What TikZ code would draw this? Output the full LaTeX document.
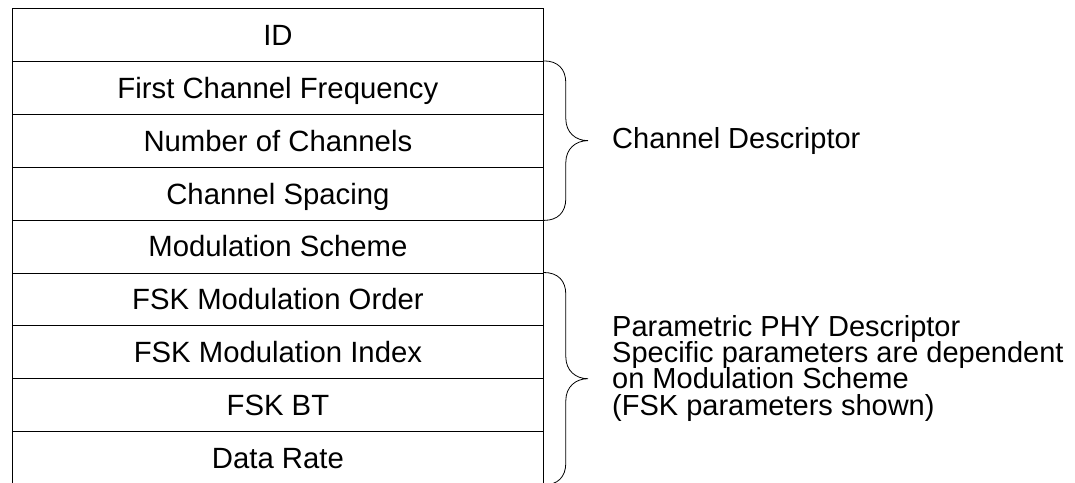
\documentclass[tikz,border=0pt]{standalone}
\usepackage{fontspec}
\setmainfont{Liberation Sans}
\usetikzlibrary{calc}
\begin{document}
\begin{tikzpicture}[x=1pt,y=-1pt,
  row/.style={draw, line width=0.8pt, minimum width=531pt, minimum height=52.9pt,
    inner sep=0pt, text height=21pt, text depth=0pt, anchor=north west,
    font=\fontsize{29.3}{32}\selectfont},
  lbl/.style={anchor=base west, inner sep=0pt, font=\fontsize{29}{32}\selectfont},
  brace/.style={draw, line width=0.8pt, line join=round}]
\useasboundingbox (0,0) rectangle (1075,482);
\node[row] (r1) at (12,8) {ID};
\node[row] (r2) at (12,60.9) {First Channel Frequency};
\node[row] (r3) at (12,113.8) {Number of Channels};
\node[row] (r4) at (12,166.7) {Channel Spacing};
\node[row] (r5) at (12,219.6) {Modulation Scheme};
\node[row] (r6) at (12,272.5) {FSK Modulation Order};
\node[row] (r7) at (12,325.4) {FSK Modulation Index};
\node[row] (r8) at (12,378.3) {FSK BT};
\node[row] (r9) at (12,431.2) {Data Rate};
% brace 1
\coordinate (a1) at (r2.north east);
\coordinate (b1) at (r4.south east);
\coordinate (m1) at ($(a1)!0.5!(b1)+(44,0)$);
\draw[brace] (a1) .. controls ($(a1)+(14,0)$) and ($(a1)+(22,8)$) .. ($(a1)+(22,22)$)
  -- ($(m1)+(-22,-22)$) .. controls ($(m1)+(-22,-8)$) and ($(m1)+(-12,0)$) .. (m1)
  .. controls ($(m1)+(-12,0)$) and ($(m1)+(-22,8)$) .. ($(m1)+(-22,22)$)
  -- ($(b1)+(22,-22)$) .. controls ($(b1)+(22,-8)$) and ($(b1)+(14,0)$) .. (b1);
% brace 2
\coordinate (a2) at (r6.north east);
\coordinate (b2) at (r9.south east);
\coordinate (m2) at ($(a2)!0.5!(b2)+(44,0)$);
\draw[brace] (a2) .. controls ($(a2)+(14,0)$) and ($(a2)+(22,8)$) .. ($(a2)+(22,22)$)
  -- ($(m2)+(-22,-22)$) .. controls ($(m2)+(-22,-8)$) and ($(m2)+(-12,0)$) .. (m2)
  .. controls ($(m2)+(-12,0)$) and ($(m2)+(-22,8)$) .. ($(m2)+(-22,22)$)
  -- ($(b2)+(22,-22)$) .. controls ($(b2)+(22,-8)$) and ($(b2)+(14,0)$) .. (b2);
\node[lbl] (cd) at (612,148) {Channel Descriptor};
\node[lbl] (p1) at (612,336.5) {Parametric PHY Descriptor};
\node[lbl] (p2) at (612,362.7) {Specific parameters are dependent};
\node[lbl] (p3) at (612,388.9) {on Modulation Scheme};
\node[lbl] (p4) at (612,415.1) {(FSK parameters shown)};
\end{tikzpicture}
\end{document}
